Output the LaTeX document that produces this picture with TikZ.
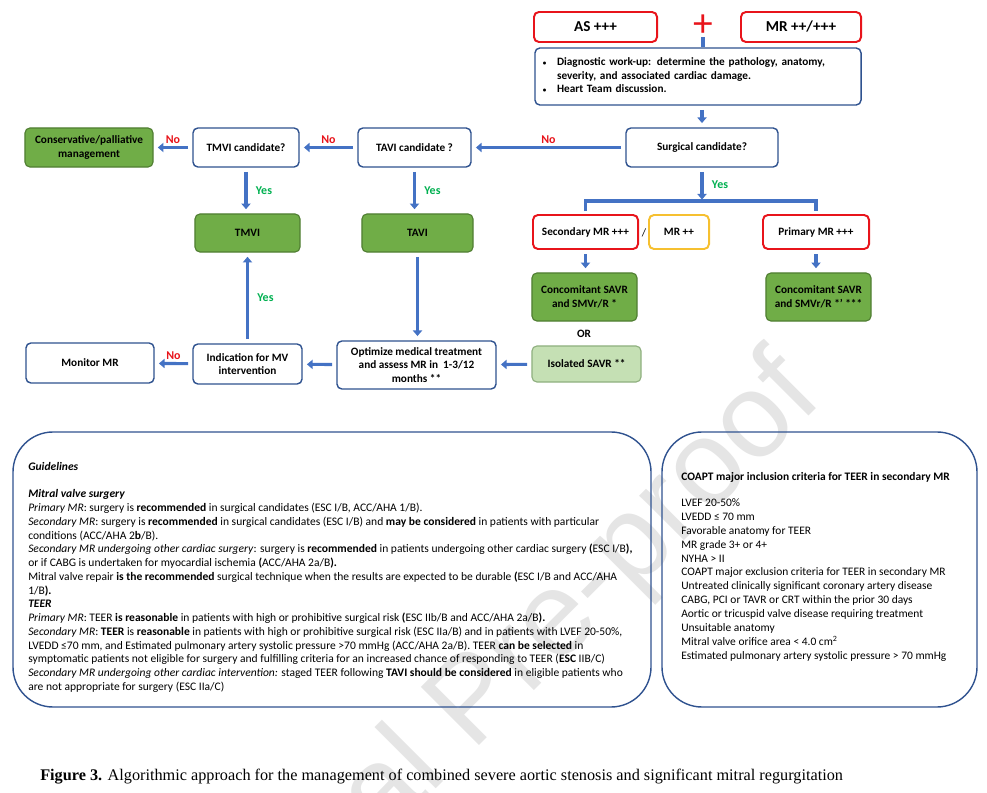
\documentclass[tikz,border=0pt]{standalone}
\usepackage{fontspec}
\setmainfont{Carlito}
\newfontfamily\capfont{Liberation Serif}
\newfontfamily\wmfont{Liberation Sans}
\usetikzlibrary{arrows.meta}

\definecolor{edgeblue}{HTML}{2F528F}
\definecolor{arrowblue}{HTML}{4472C4}
\definecolor{alertred}{HTML}{E8141B}
\definecolor{amber}{HTML}{F6C030}
\definecolor{leafgreen}{HTML}{70AD47}
\definecolor{leafdark}{HTML}{507E32}
\definecolor{palegreen}{HTML}{C5E0B4}
\definecolor{paledark}{HTML}{8FAF7F}
\definecolor{yesgreen}{HTML}{00B050}

\begin{document}
\begin{tikzpicture}[x=0.025cm, y=-0.025cm,
    box/.style={draw=edgeblue, line width=1pt, fill=white, rounded corners=3.5pt,
        align=center, inner sep=2pt, font=\bfseries\fontsize{8}{9.6}\selectfont},
    redbox/.style={box, draw=alertred, line width=1.4pt},
    goldbox/.style={box, draw=amber, line width=1.4pt},
    greenbox/.style={box, fill=leafgreen, draw=leafdark, line width=0.8pt},
    palebox/.style={box, fill=palegreen, draw=paledark, line width=0.8pt},
    flow/.style={draw=arrowblue, line width=2.2pt, -{Triangle[width=6.5pt,length=4pt]},
        shorten <=3pt, shorten >=3pt},
    bar/.style={draw=arrowblue, line width=2.2pt},
    nolbl/.style={above, inner sep=1.5pt, text=alertred, font=\bfseries\fontsize{8.5}{9}\selectfont},
    yeslbl/.style={right=5pt, inner sep=1pt, text=yesgreen, font=\bfseries\fontsize{8.5}{9}\selectfont},
    panel/.style={draw=edgeblue, line width=1pt, rounded corners=1cm},
    panetext/.style={anchor=north west, inner sep=0pt, align=left, font=\fontsize{8.2}{9.78}\selectfont}
]
\useasboundingbox (0,0) rectangle (987,793);

% watermark
\node[rotate=45, anchor=base east, inner sep=0pt, text=black!10,
    font=\wmfont\fontsize{85}{85}\selectfont] (mark) at (825,400) {Journal Pre-proof};

% top
\node[redbox, minimum width=3.075cm, minimum height=0.75cm, font=\bfseries\fontsize{10.8}{12}\selectfont] (as) at (595.5,27) {AS +++};
\node[redbox, minimum width=3.0cm, minimum height=0.75cm, font=\bfseries\fontsize{10.8}{12}\selectfont] (mr) at (801,27) {MR ++/+++};
\node[text=alertred, inner sep=0pt, font=\fontsize{28}{28}\selectfont] (plus) at (703,26) {+};
\node[box, minimum width=8.15cm, minimum height=1.425cm, inner xsep=0.2cm, text width=7.75cm,
    align=left] (diag) at (698,76.5) {%
    \begin{tabular}{@{}p{10pt}@{}l@{}}
    {\fontsize{5}{5}\selectfont\textbullet} & Diagnostic work-up: determine the pathology, anatomy,\\
     & severity, and associated cardiac damage.\\
    {\fontsize{5}{5}\selectfont\textbullet} & Heart Team discussion.
    \end{tabular}};
\node[box, minimum width=3.8cm, minimum height=0.975cm] (surg) at (702,147.5) {Surgical candidate?};

% left branch
\node[box, minimum width=2.825cm, minimum height=0.975cm] (tavic) at (414.5,147.5) {TAVI candidate ?};
\node[box, minimum width=2.65cm, minimum height=0.975cm] (tmvic) at (246,147.5) {TMVI candidate?};
\node[greenbox, minimum width=3.2cm, minimum height=0.975cm] (cons) at (89,147.5) {Conservative/palliative\\management};
\node[greenbox, minimum width=2.625cm, minimum height=0.95cm] (tmvi) at (247.5,233) {TMVI};
\node[greenbox, minimum width=2.775cm, minimum height=0.95cm] (tavi) at (417.5,233) {TAVI};
\node[box, minimum width=3.975cm, minimum height=1.2cm] (opt) at (416.5,365) {Optimize medical treatment\\and assess MR in~~1-3/12\\months **};
\node[box, minimum width=2.725cm, minimum height=1.0cm] (indic) at (247.5,364) {Indication for MV\\intervention};
\node[box, minimum width=3.2cm, minimum height=1.0cm] (monitor) at (90,363) {Monitor MR};

% surgical branch
\node[redbox, minimum width=2.625cm, minimum height=0.85cm] (sec) at (585.5,232) {Secondary MR +++};
\node[font=\fontsize{8}{9.6}\selectfont] (slash) at (644,233) {/};
\node[goldbox, minimum width=1.5cm, minimum height=0.85cm] (mrmod) at (679,232) {MR ++};
\node[redbox, minimum width=2.65cm, minimum height=0.85cm] (prim) at (816,232) {Primary MR +++};
\node[greenbox, minimum width=2.625cm, minimum height=1.2cm] (conca) at (584.5,297) {Concomitant SAVR\\and SMVr/R *};
\node[greenbox, minimum width=2.625cm, minimum height=1.2cm] (concb) at (818.5,297) {Concomitant SAVR\\and SMVr/R *’ ***};
\node[font=\bfseries\fontsize{8}{9.6}\selectfont] (orlbl) at (584,334) {OR};
\node[palebox, minimum width=2.725cm, minimum height=0.9cm] (isol) at (586.5,364) {Isolated SAVR **};
\coordinate (split) at (702,201);

\draw[bar] (plus) -- (diag.north -| plus);
\draw[flow] (diag.south -| surg) -- (surg);
\draw[flow] (surg) -- node[nolbl]{No} (tavic);
\draw[flow] (tavic) -- node[nolbl]{No} (tmvic);
\draw[flow] (tmvic) -- node[nolbl]{No} (cons);
\draw[flow] (tmvic.south) -- node[yeslbl]{Yes} (tmvic.south |- tmvi.north);
\draw[flow] (tavic.south) -- node[yeslbl]{Yes} (tavic.south |- tavi.north);
\draw[flow, shorten >=1pt] (surg) -- node[yeslbl]{Yes} (split);
\draw[bar, shorten <=2pt, shorten >=2pt] (sec.north) |- (split) -| (prim.north);
\draw[flow] (sec.south) -- (sec.south |- conca.north);
\draw[flow] (prim.south) -- (prim.south |- concb.north);
\draw[flow] (isol) -- (opt);
\draw[flow] (tavi.south) -- (tavi.south |- opt.north);
\draw[flow] (opt) -- (indic);
\draw[flow] (indic.north) -- node[yeslbl]{Yes} (indic.north |- tmvi.south);
\draw[flow] (indic) -- node[nolbl]{No} (monitor);

% panels
\draw[panel] (13,432) rectangle (651,707);
\draw[panel] (662,432) rectangle (977,707);

\node[panetext] (guide) at (28,462) {%
\textbf{\textit{Guidelines}}\\[9.78pt]
\textbf{\textit{Mitral valve surgery}}\\
\textit{Primary MR}: surgery is \textbf{recommended} in surgical candidates (ESC I/B, ACC/AHA 1/B).\\
\textit{Secondary MR}: surgery is \textbf{recommended} in surgical candidates (ESC I/B) and \textbf{may be considered} in patients with particular\\
conditions (ACC/AHA 2\textbf{b}/B).\\
\textit{Secondary MR undergoing other cardiac surgery}: surgery is \textbf{recommended} in patients undergoing other cardiac surgery \textbf{(}ESC I/B\textbf{),}\\
or if CABG is undertaken for myocardial ischemia \textbf{(}ACC/AHA 2a/B\textbf{).}\\
Mitral valve repair \textbf{is the recommended} surgical technique when the results are expected to be durable \textbf{(}ESC I/B and ACC/AHA\\
1/B\textbf{).}\\
\textbf{\textit{TEER}}\\
\textit{Primary MR}: TEER \textbf{is reasonable} in patients with high or prohibitive surgical risk \textbf{(}ESC IIb/B and ACC/AHA 2a/B\textbf{).}\\
\textit{Secondary MR}: \textbf{TEER} is \textbf{reasonable} in patients with high or prohibitive surgical risk (ESC IIa/B) and in patients with LVEF 20-50\%,\\
LVEDD ≤70 mm, and Estimated pulmonary artery systolic pressure >70 mmHg (ACC/AHA 2a/B). TEER \textbf{can be selected} in\\
symptomatic patients not eligible for surgery and fulfilling criteria for an increased chance of responding to TEER (\textbf{ESC} IIB/C)\\
\textit{Secondary MR undergoing other cardiac intervention:} staged TEER following \textbf{TAVI should be considered} in eligible patients who\\
are not appropriate for surgery (ESC IIa/C)};

\node[panetext, font=\fontsize{8.15}{9.9}\selectfont] (coapt) at (681,472) {%
\textbf{COAPT major inclusion criteria for TEER in secondary MR}\\[8.6pt]
LVEF 20-50\%\\
LVEDD ≤ 70 mm\\
Favorable anatomy for TEER\\
MR grade 3+ or 4+\\
NYHA > II\\
COAPT major exclusion criteria for TEER in secondary MR\\
Untreated clinically significant coronary artery disease\\
CABG, PCI or TAVR or CRT within the prior 30 days\\
Aortic or tricuspid valve disease requiring treatment\\
Unsuitable anatomy\\
Mitral valve orifice area < 4.0 cm\textsuperscript{2}\\
Estimated pulmonary artery systolic pressure > 70 mmHg};

\node[anchor=base west, inner sep=0pt, font=\capfont\fontsize{11.55}{13}\selectfont] (figcap) at (40,780)
    {\textbf{Figure 3.} Algorithmic approach for the management of combined severe aortic stenosis and significant mitral regurgitation};
\end{tikzpicture}
\end{document}
